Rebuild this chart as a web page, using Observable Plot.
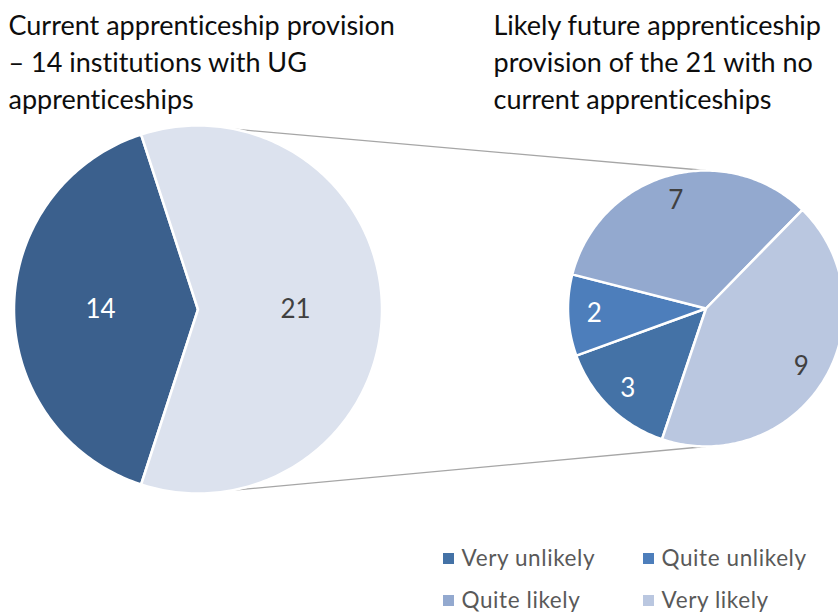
<!DOCTYPE html>
<html><head><meta charset="utf-8">
<script src="https://cdn.jsdelivr.net/npm/d3@7"></script>
<script src="https://cdn.jsdelivr.net/npm/@observablehq/plot@0.6"></script>
<style>body{margin:0;background:#fff;overflow:hidden}
svg text{font-variant-ligatures:none;font-feature-settings:"liga" 0,"clig" 0;}
.legend-text text{letter-spacing:0.6px}</style>
</head><body><div id="chart"></div>
<script>
// ---- data ----
const leftCategories = ["With UG apprenticeships", "No current apprenticeships"];
const leftValues = [14, 21];
const rightCategories = ["Very unlikely", "Quite unlikely", "Quite likely", "Very likely"];
const rightValues = [3, 2, 7, 9];
const leftTitle = ["Current apprenticeship provision", "– 14 institutions with UG", "apprenticeships"];
const rightTitle = ["Likely future apprenticeship", "provision of the 21 with no", "current apprenticeships"];

// ---- styles ----
const leftColors = ["#3B608D", "#DCE2EE"];
const rightColors = ["#4472A6", "#4D7EBB", "#93A9CF", "#BAC7E0"];
const darkLabel = new Set(["With UG apprenticeships", "Very unlikely", "Quite unlikely"]);

// ---- layout ----
const W = 838, H = 612;
const deg = Math.PI / 180;
const L = {cx: 197.5, cy: 309, r: 184, lf: 0.53, start: 198 * deg};
const R = {cx: 705.5, cy: 308, r: 138, lf: 0.81, start: 198.6 * deg};

function pieGeometry(cats, vals, g, group) {
  const arcs = d3.pie().sort(null).startAngle(g.start).endAngle(g.start + 2 * Math.PI)(vals);
  const polys = [], labels = [];
  arcs.forEach((a, i) => {
    const key = group + ":" + cats[i];
    polys.push({key, cat: cats[i], x: g.cx, y: g.cy});
    const n = Math.max(2, Math.ceil((a.endAngle - a.startAngle) / deg));
    for (let k = 0; k <= n; k++) {
      const t = a.startAngle + (a.endAngle - a.startAngle) * k / n;
      polys.push({key, cat: cats[i], x: g.cx + g.r * Math.sin(t), y: g.cy - g.r * Math.cos(t)});
    }
    const m = (a.startAngle + a.endAngle) / 2;
    labels.push({cat: cats[i], value: vals[i],
      x: g.cx + g.r * g.lf * Math.sin(m), y: g.cy - g.r * g.lf * Math.cos(m)});
  });
  return {polys, labels};
}

const left = pieGeometry(leftCategories, leftValues, L, "L");
const right = pieGeometry(rightCategories, rightValues, R, "R");
const polys = [...left.polys, ...right.polys];
const labels = [...left.labels, ...right.labels];

const pt = (g, a) => ({x: g.cx + g.r * Math.sin(a * deg), y: g.cy - g.r * Math.cos(a * deg)});
const connectors = [
  {a: pt(L, 11.5), b: pt(R, 0)},
  {a: pt(L, 169.5), b: pt(R, 180)}
];

const legendCols = [448, 648], legendRows = [558, 600];
const legend = rightCategories.map((c, i) => ({cat: c, x: legendCols[i % 2], y: legendRows[Math.floor(i / 2)]}));

const titleRows = [26, 63, 100];
const titles = [
  ...leftTitle.map((t, i) => ({t, x: 8, y: titleRows[i]})),
  ...rightTitle.map((t, i) => ({t, x: 493, y: titleRows[i]}))
];

const chart = Plot.plot({
  width: W, height: H,
  margin: 0,
  x: {domain: [0, W], range: [0, W], axis: null},
  y: {domain: [0, H], range: [0, H], axis: null},
  color: {domain: [...leftCategories, ...rightCategories], range: [...leftColors, ...rightColors]},
  style: {fontFamily: "Lato, 'Open Sans', sans-serif", background: "#fff"},
  marks: [
    Plot.link(connectors, {x1: d => d.a.x, y1: d => d.a.y, x2: d => d.b.x, y2: d => d.b.y,
      stroke: "#A6A6A6", strokeWidth: 1.3}),
    Plot.line(polys, {x: "x", y: "y", z: "key", fill: "cat", stroke: "white",
      strokeWidth: 2.5, strokeLinejoin: "round", curve: "linear-closed"}),
    Plot.text(labels, {x: "x", y: "y", text: d => String(d.value), fontSize: 26,
      fill: d => darkLabel.has(d.cat) ? "#ffffff" : "#404040"}),
    Plot.text(titles, {x: "x", y: "y", text: "t", textAnchor: "start", fontSize: 27, fill: "#0d0d0d"}),
    Plot.dot(legend, {x: "x", y: "y", symbol: "square", r: 6.2, fill: "cat"}),
    Plot.text(legend, {x: d => d.x + 13, y: "y", text: "cat", textAnchor: "start", fontSize: 22.5,
      fill: "#595959", className: "legend-text"})
  ]
});
document.getElementById("chart").append(chart);
</script>
</body></html>
